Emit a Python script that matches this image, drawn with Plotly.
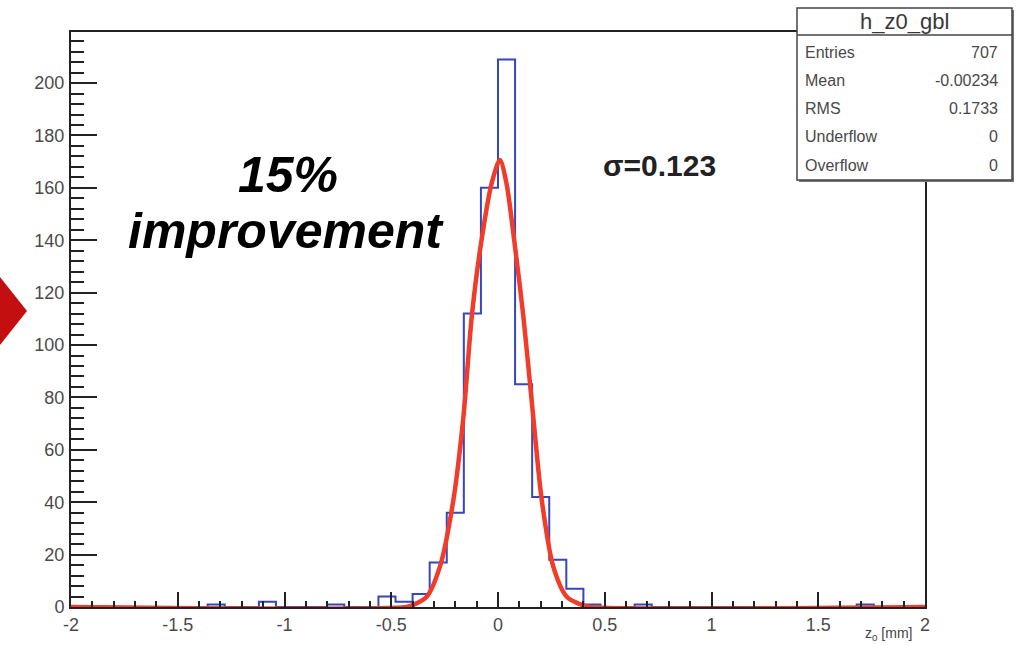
import plotly.graph_objects as go

# ---------------- data ----------------
bin_low = -2.0
bin_width = 0.08
counts = [0, 0, 0, 0, 0, 0, 0, 0, 1, 0,
          0, 2, 0, 0, 0, 1, 0, 0, 4, 2,
          5, 17, 36, 112, 160, 209, 85, 42, 18, 7,
          1, 0, 0, 1, 0, 0, 0, 0, 0, 0,
          0, 0, 0, 0, 0, 0, 1, 0, 0, 0]

fit_x = [-2.0, -0.43, -0.397, -0.334, -0.272, -0.209, -0.162, -0.123, -0.084, -0.03,
         0.009, 0.04, 0.072, 0.119, 0.165, 0.205, 0.259, 0.322, 0.392, 0.43, 2.0]
fit_y = [0, 0, 0.8, 3.9, 15.4, 40.8, 72.6, 110.8, 136.3, 161.6,
         170.6, 161.6, 142.6, 110.8, 72.6, 40.8, 15.4, 3.9, 0.8, 0, 0]

xtick_vals = [-2, -1.5, -1, -0.5, 0, 0.5, 1, 1.5, 2]
xtick_text = ["-2", "-1.5", "-1", "-0.5", "0", "0.5", "1", "1.5", "2"]
ytick_vals = [0, 20, 40, 60, 80, 100, 120, 140, 160, 180, 200]
ytick_text = [str(v) for v in ytick_vals]

stats_title = "h_z0_gbl"
stats_labels = ["Entries", "Mean", "RMS", "Underflow", "Overflow"]
stats_values = ["707", "-0.00234", "0.1733", "0", "0"]
sigma_text = "σ=0.123"
note_lines = ["15%", "improvement"]
x_title = "z<sub>0</sub> [mm]"

# ---------------- layout geometry (pixels) ----------------
W, H = 1023, 645
L, R, T, B = 71, 925, 32, 607
FONT = "Liberation Sans, Arial, sans-serif"


def px(xp):
    return (xp - L) / (R - L)


def py(yp):
    return (B - yp) / (B - T)


edges = [bin_low + bin_width * i for i in range(len(counts) + 1)]
hist_y = counts + [counts[-1]]

fig = go.Figure()
fig.add_trace(go.Scatter(x=edges, y=hist_y, mode="lines", line_shape="hv",
                         line=dict(color="#3446c0", width=2), hoverinfo="skip",
                         showlegend=False))
fig.add_trace(go.Scatter(x=fit_x, y=fit_y, mode="lines", line_shape="spline",
                         line=dict(color="#f03c2a", width=4.5, smoothing=0.8),
                         hoverinfo="skip", showlegend=False))

tickfont = dict(family=FONT, size=18, color="#4a4a4a")

fig.update_xaxes(range=[-2, 2], tickmode="array", tickvals=xtick_vals, ticktext=xtick_text,
                 ticks="inside", ticklen=15, tickwidth=1.6, tickcolor="#222",
                 minor=dict(tickmode="linear", tick0=-2, dtick=0.1, ticks="inside",
                            ticklen=6, tickwidth=1.6, tickcolor="#222", showgrid=False),
                 showline=True, linecolor="#222", linewidth=2, mirror=True, automargin=False,
                 showgrid=False, zeroline=False, tickfont=tickfont, ticklabelstandoff=0)
fig.update_yaxes(range=[0, 219.5], tickmode="array", tickvals=ytick_vals, ticktext=ytick_text,
                 ticks="inside", ticklen=26, tickwidth=1.6, tickcolor="#222",
                 minor=dict(tickmode="linear", tick0=0, dtick=4, ticks="inside",
                            ticklen=13, tickwidth=1.6, tickcolor="#222", showgrid=False),
                 showline=True, linecolor="#222", linewidth=2, mirror=True, automargin=False,
                 showgrid=False, zeroline=False, tickfont=tickfont, ticklabelstandoff=1)

shapes = []
annotations = []

# stats box
bx0, bx1, by0, by1, bsep = 797, 1012, 8, 180, 35
shapes.append(dict(type="rect", xref="paper", yref="paper",
                   x0=px(bx0 + 2), x1=px(bx1 + 2), y0=py(by1 + 2), y1=py(by0 + 2),
                   fillcolor="#777", line=dict(width=0), layer="above"))
shapes.append(dict(type="rect", xref="paper", yref="paper",
                   x0=px(bx0), x1=px(bx1), y0=py(by1), y1=py(by0),
                   fillcolor="white", line=dict(color="#444", width=1.5), layer="above"))
shapes.append(dict(type="line", xref="paper", yref="paper",
                   x0=px(bx0), x1=px(bx1), y0=py(bsep), y1=py(bsep),
                   line=dict(color="#444", width=1.5), layer="above"))
statfont = dict(family=FONT, size=16, color="#484848")
annotations.append(dict(xref="paper", yref="paper", x=px((bx0 + bx1) / 2), y=py(21),
                        text=stats_title, showarrow=False, xanchor="center", yanchor="middle",
                        font=dict(family=FONT, size=22, color="#383838")))
row_y = [53, 81, 109, 137, 165]
for lab, val, ry in zip(stats_labels, stats_values, row_y):
    annotations.append(dict(xref="paper", yref="paper", x=px(803), y=py(ry), text=lab,
                            showarrow=False, xanchor="left", yanchor="middle", font=statfont))
    annotations.append(dict(xref="paper", yref="paper", x=px(1000), y=py(ry), text=val,
                            showarrow=False, xanchor="right", yanchor="middle", font=statfont))

# sigma text
annotations.append(dict(xref="paper", yref="paper", x=px(601), y=py(165), text=sigma_text,
                        showarrow=False, xanchor="left", yanchor="middle",
                        font=dict(family=FONT, size=30, color="#222", weight="bold")))

# big note
bigfont = dict(family=FONT, size=50, color="#000", weight="bold", style="italic")
annotations.append(dict(xref="paper", yref="paper", x=px(288), y=py(175), text=note_lines[0],
                        showarrow=False, xanchor="center", yanchor="middle", font=bigfont))
annotations.append(dict(xref="paper", yref="paper", x=px(286), y=py(231), text=note_lines[1],
                        showarrow=False, xanchor="center", yanchor="middle", font=bigfont))

# x axis title at the bottom right corner
annotations.append(dict(xref="paper", yref="paper", x=px(914), y=py(645), text=x_title,
                        showarrow=False, xanchor="right", yanchor="bottom",
                        font=dict(family=FONT, size=14, color="#444")))

# red slide pointer on the left edge
shapes.append(dict(type="path", xref="paper", yref="paper",
                   path=f"M {px(0)},{py(277)} L {px(27)},{py(311)} L {px(0)},{py(345)} Z",
                   fillcolor="#c30f0f", line=dict(width=0), layer="above"))

fig.update_layout(width=W, height=H, margin=dict(l=L, r=W - R, t=T, b=H - B),
                  paper_bgcolor="white", plot_bgcolor="white",
                  shapes=shapes, annotations=annotations, showlegend=False)

fig.write_html("out.html")
